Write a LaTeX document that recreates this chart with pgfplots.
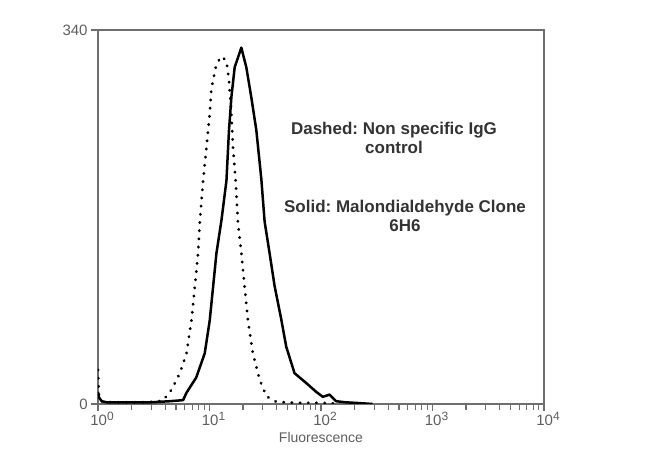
\documentclass[border=0pt]{standalone}
\usepackage{fontspec}
\setmainfont{Liberation Sans}
\usepackage{pgfplots}
\pgfplotsset{compat=1.18}
\definecolor{axgray}{HTML}{6E6E6E}
\definecolor{lblgray}{HTML}{5E5E5E}
\definecolor{txt}{HTML}{333333}
\newcommand{\sexp}[1]{10\raisebox{2.6pt}{\fontsize{6}{6}\selectfont #1}}
\frenchspacing
\begin{document}
\begin{tikzpicture}
\begin{axis}[name=ax, scale only axis, width=223pt, height=187pt,
  xmode=log, xmin=1, xmax=10000, ymin=0, ymax=340,
  ytick={0,340},
  /pgf/number format/assume math mode=true,
  xtick={1,10,100,1000,10000},
  xticklabels={\sexp{0},\sexp{1},\sexp{2},\sexp{3},\sexp{4}},
  tick pos=left, tick align=outside,
  major tick length=3.5pt, minor tick length=3pt,
  axis line style={axgray, line width=0.9pt},
  every tick/.style={axgray, line width=0.6pt},
  tick label style={font=\fontsize{7.5}{8}\selectfont, text=lblgray},
  xticklabel style={inner sep=0pt, yshift=-0.4pt, xshift=2pt},
  yticklabel style={inner sep=1.5pt},
  xlabel={Fluorescence},
  xlabel style={font=\fontsize{7}{8}\selectfont, text=lblgray, at={(axis description cs:0.5,0)}, anchor=base, yshift=-19.2pt},
]
\addplot[black, line width=1.25pt, line join=round] coordinates {
(1,11) (1.02,6) (1.08,2.5) (1.2,1.5) (2,1.5) (3,1.5) (3.6,2) (4.4,2.5) (5.8,3.5) (6.2,10) (7.6,24) (9.06,46) (10.05,76) (10.76,106) (11.54,137) (12.8,167) (14.19,203) (14.96,249) (15.72,279) (16.82,306) (19.3,324) (21.4,306) (23.7,279) (26.3,249) (29.2,204) (31.2,166) (34.6,137) (38.4,107) (44,77) (48.8,52) (57.9,28) (73.8,19) (90.6,11) (103.8,6.5) (119,8.5) (136.8,2.5) (168,1.5) (221,0.8) (290,0)
};
\addplot[black, line width=1.5pt, line cap=round, dash pattern=on 0.1pt off 4pt] coordinates {
(1,31) (1.02,5) (1.1,2) (1.5,1.5) (2.38,1.5) (3.2,2) (3.82,3) (4.57,13) (5.42,28) (6.22,46) (6.89,76) (7.38,106) (7.9,137) (8.18,165) (8.76,203) (9.39,233) (10.05,264) (10.41,287) (11.54,309) (12.8,316) (14.19,312) (14.96,294) (15.72,264) (16.25,233) (17.17,203) (18,165) (19.32,137) (20.67,106) (22.13,76) (24.5,46) (28.2,22) (32.4,7) (39.7,2) (60,1) (100,1) (140,0.5)
};
\node[align=center, font=\bfseries\fontsize{8.5}{9.75}\selectfont, text=txt] at (axis cs:451.6,242) {Dashed: Non specific IgG\\control};
\node[align=center, font=\bfseries\fontsize{8.5}{9.75}\selectfont, text=txt] at (axis cs:566.7,171) {Solid: Malondialdehyde Clone\\6H6};
\end{axis}
\path ([shift={(-49pt,-28pt)}]ax.south west) rectangle ([shift={(53pt,15pt)}]ax.north east);
\end{tikzpicture}
\end{document}
